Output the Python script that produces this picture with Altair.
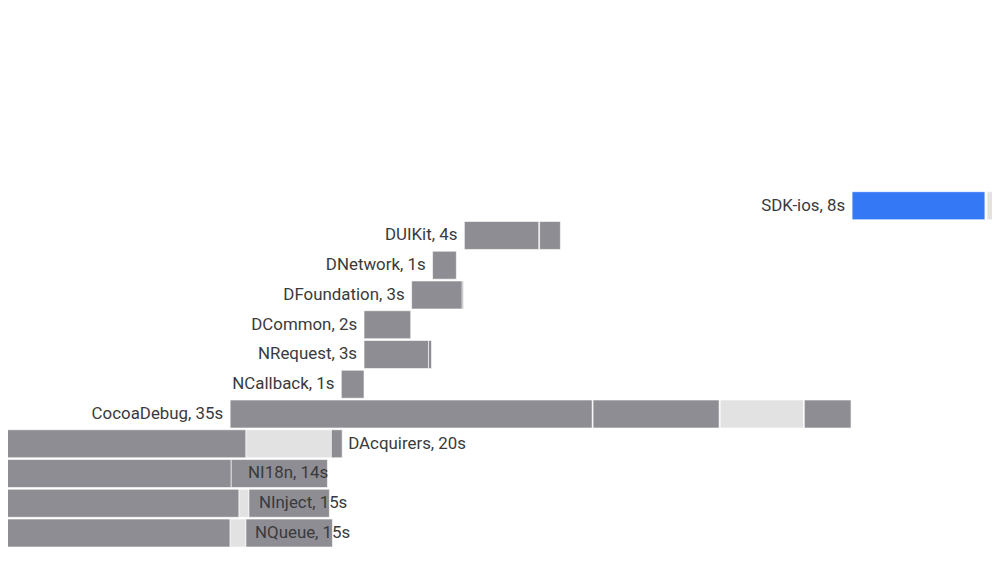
import altair as alt
import pandas as pd

# timeline in seconds
rows = ["SDK-ios","DUIKit","DNetwork","DFoundation","DCommon","NRequest","NCallback",
        "CocoaDebug","DAcquirers","NI18n","NInject","NQueue"]
labels = ["SDK-ios, 8s","DUIKit, 4s","DNetwork, 1s","DFoundation, 3s","DCommon, 2s","NRequest, 3s",
          "NCallback, 1s","CocoaDebug, 35s","DAcquirers, 20s","NI18n, 14s","NInject, 15s","NQueue, 15s"]
# segments: (row index, start, end, kind)
seg_row =   [0,0, 1,1, 2, 3,3, 4, 5,5, 6, 7,7,7,7, 8,8,8, 9,9, 10,10,10, 11,11,11]
seg_start = [47.99,55.59, 26.15,30.39, 24.36, 23.18,26.03, 20.5, 20.5,24.13, 19.22,
             12.96,33.4,40.56,45.3, -1,13.85,18.66, -1,13.02, -1,13.46,14.02, -1,12.96,13.85]
seg_end =   [55.47,56.5, 30.34,31.56, 25.7, 26.03,26.09, 23.13, 24.13,24.3, 20.5,
             33.35,40.5,45.25,47.93, 13.85,18.66,19.27, 13.02,18.44, 13.46,14.02,18.55, 12.96,13.85,18.72]
seg_kind =  ["main","idle", "build","build", "build", "build","build", "build", "build","build","build",
             "build","build","idle","build", "build","idle","build", "build","build", "build","idle","build",
             "build","idle","build"]
# label anchor (seconds) and side
lab_x = [47.99,26.15,24.36,23.18,20.5,20.5,19.22,12.96,19.61,13.97,14.58,14.36]
lab_side = ["left"]*8 + ["right"]*4

seg = pd.DataFrame({"row": seg_row, "start": seg_start, "end": seg_end, "kind": seg_kind})
seg["y1"] = seg["row"] - 0.47
seg["y2"] = seg["row"] + 0.47
lab = pd.DataFrame({"row": list(range(len(rows))), "label": labels, "x": lab_x, "side": lab_side})

xs = alt.Scale(domain=[0.447, 55.87], nice=False, zero=False)
ys = alt.Scale(domain=[-6.567, 12.233], nice=False, zero=False, reverse=True)

bars = alt.Chart(seg).mark_rect(clip=True, stroke="white", strokeWidth=0.6).encode(
    x=alt.X("start:Q", scale=xs, axis=None),
    x2="end:Q",
    y=alt.Y("y1:Q", scale=ys, axis=None),
    y2="y2:Q",
    color=alt.Color("kind:N", scale=alt.Scale(domain=["main","build","idle"],
                    range=["#3478f6","#8e8d93","#e2e2e2"]), legend=None),
)

left = alt.Chart(lab[lab.side == "left"]).mark_text(
    align="right", baseline="middle", dx=-7, fontSize=17, font="Roboto", color="#3a3a3c").encode(
    x=alt.X("x:Q", scale=xs), y=alt.Y("row:Q", scale=ys), text="label:N")
right = alt.Chart(lab[lab.side == "right"]).mark_text(
    align="left", baseline="middle", dx=0, fontSize=17, font="Roboto", color="#3a3a3c").encode(
    x=alt.X("x:Q", scale=xs), y=alt.Y("row:Q", scale=ys), text="label:N")

chart = alt.layer(bars, left, right).properties(
    width=992, height=564, padding=0, autosize=alt.AutoSizeParams(type="none")
).configure_view(stroke=None)

chart.save("out.html", embed_options={"renderer": "svg", "actions": False})
